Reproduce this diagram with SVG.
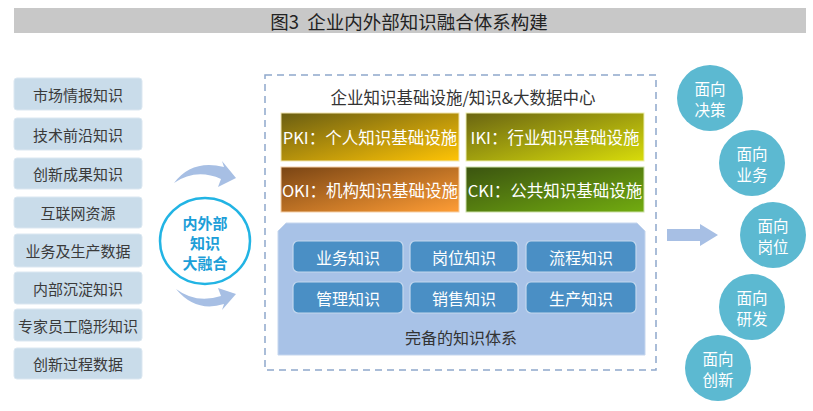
<svg xmlns="http://www.w3.org/2000/svg" width="813" height="411" viewBox="0 0 813 411">
<defs>
<style>
text{font-family:"Noto Sans CJK SC","Noto Sans",sans-serif;text-anchor:middle;dominant-baseline:central}
.src rect{fill:#c9dcea;stroke:#dbe7f1;stroke-width:1}
.src text{font-size:15px;fill:#3a3a3a}
.ki text{font-size:16.5px;fill:#ffffff}
.kb rect{fill:#4a8fc5;stroke:#c4d8ee;stroke-width:1.2}
.kb text{font-size:16px;fill:#ffffff}
.tgt circle{fill:#5cb9d1}
.tgt text{font-size:15.5px;fill:#ffffff}
.arr{fill:#a7bfe4}
</style>
<linearGradient id="gP" x1="0" y1="0" x2="1" y2="1"><stop offset="0" stop-color="#6a5e12"/><stop offset="1" stop-color="#ffc405"/></linearGradient>
<linearGradient id="gI" x1="0" y1="0" x2="1" y2="1"><stop offset="0" stop-color="#6a6512"/><stop offset="1" stop-color="#d8dc0a"/></linearGradient>
<linearGradient id="gO" x1="0" y1="0" x2="1" y2="1"><stop offset="0" stop-color="#7a4514"/><stop offset="1" stop-color="#ff9d35"/></linearGradient>
<linearGradient id="gC" x1="0" y1="0" x2="1" y2="1"><stop offset="0" stop-color="#3b5410"/><stop offset="1" stop-color="#72ac10"/></linearGradient>
</defs>
<rect width="813" height="411" fill="#ffffff"/>
<g id="title">
<rect x="14" y="8" width="792" height="25" fill="#c8c8c8"/>
<text x="409" y="21" style="font-size:18.5px;fill:#222">图3&#160;&#160;企业内外部知识融合体系构建</text>
</g>
<g id="sources" class="src">
<g id="s1"><rect x="14" y="78" width="128" height="32" rx="3"/><text x="78" y="94">市场情报知识</text></g>
<g id="s2"><rect x="14" y="118" width="128" height="32" rx="3"/><text x="78" y="134">技术前沿知识</text></g>
<g id="s3"><rect x="14" y="158" width="128" height="31" rx="3"/><text x="78" y="173.5">创新成果知识</text></g>
<g id="s4"><rect x="14" y="197" width="128" height="31" rx="3"/><text x="78" y="212.5">互联网资源</text></g>
<g id="s5"><rect x="14" y="234" width="128" height="33" rx="3"/><text x="78" y="250.5">业务及生产数据</text></g>
<g id="s6"><rect x="14" y="272" width="128" height="32" rx="3"/><text x="78" y="288">内部沉淀知识</text></g>
<g id="s7"><rect x="14" y="309" width="128" height="32" rx="3"/><text x="78" y="325">专家员工隐形知识</text></g>
<g id="s8"><rect x="14" y="348" width="128" height="31" rx="3"/><text x="78" y="363.5">创新过程数据</text></g>
</g>
<g id="fusion">
<ellipse cx="205" cy="241" rx="45" ry="43" fill="#ffffff" stroke="#22b4e4" stroke-width="2.5"/>
<text x="205" y="222" style="font-size:15px;font-weight:bold;fill:#1c9ed8">内外部</text>
<text x="205" y="242" style="font-size:15px;font-weight:bold;fill:#1c9ed8">知识</text>
<text x="205" y="262" style="font-size:15px;font-weight:bold;fill:#1c9ed8">大融合</text>
</g>
<g id="connectors">
<path class="arr" d="M174 183 Q192 159 224 167 L222 161 L236 178 L218 187 L221 179 Q196 168 174 183 Z"/>
<path class="arr" d="M176 289 Q196 313 224 304 L222 310 L236 294 L218 288 L221 296 Q196 304 176 289 Z"/>
<path class="arr" d="M667 229 L700 229 L700 224 L718 235 L700 246 L700 241 L667 241 Z"/>
</g>
<g id="center">
<rect x="265" y="75" width="391" height="295" fill="none" stroke="#8fa8cc" stroke-width="1.5" stroke-dasharray="7 5"/>
<text x="463" y="97" style="font-size:16.5px;fill:#333">企业知识基础设施/知识&amp;大数据中心</text>
</g>
<g id="infra" class="ki">
<g id="pki"><rect x="281" y="113" width="178" height="48" fill="url(#gP)" stroke="#f2e6b0" stroke-width="1"/><text x="370" y="137">PKI：个人知识基础设施</text></g>
<g id="iki"><rect x="466" y="113" width="178" height="48" fill="url(#gI)" stroke="#eef0b0" stroke-width="1"/><text x="555" y="137">IKI：行业知识基础设施</text></g>
<g id="oki"><rect x="281" y="167" width="178" height="45" fill="url(#gO)" stroke="#f5d0a8" stroke-width="1"/><text x="370" y="189.5">OKI：机构知识基础设施</text></g>
<g id="cki"><rect x="466" y="167" width="178" height="45" fill="url(#gC)" stroke="#cde0a8" stroke-width="1"/><text x="555" y="189.5">CKI：公共知识基础设施</text></g>
</g>
<g id="system">
<path d="M286 223 L637 223 L645 231 L645 355 L278 355 L278 231 Z" fill="#a8c2e7" stroke="#c5d6ee" stroke-width="1"/>
<text x="461" y="337" style="font-size:16px;fill:#333">完备的知识体系</text>
</g>
<g id="kb" class="kb">
<g id="k1"><rect x="293" y="241" width="110" height="31" rx="5"/><text x="348" y="256.5">业务知识</text></g>
<g id="k2"><rect x="410" y="241" width="108" height="31" rx="5"/><text x="464" y="256.5">岗位知识</text></g>
<g id="k3"><rect x="526" y="241" width="110" height="31" rx="5"/><text x="581" y="256.5">流程知识</text></g>
<g id="k4"><rect x="293" y="282" width="110" height="31" rx="5"/><text x="348" y="297.5">管理知识</text></g>
<g id="k5"><rect x="410" y="282" width="108" height="31" rx="5"/><text x="464" y="297.5">销售知识</text></g>
<g id="k6"><rect x="526" y="282" width="110" height="31" rx="5"/><text x="581" y="297.5">生产知识</text></g>
</g>
<g id="targets" class="tgt">
<g id="t1"><circle cx="710" cy="98" r="33"/><text x="710" y="88">面向</text><text x="710" y="109">决策</text></g>
<g id="t2"><circle cx="752" cy="163" r="33"/><text x="752" y="153">面向</text><text x="752" y="174">业务</text></g>
<g id="t3"><circle cx="773" cy="235" r="33"/><text x="773" y="225">面向</text><text x="773" y="246">岗位</text></g>
<g id="t4"><circle cx="752" cy="307" r="33"/><text x="752" y="297">面向</text><text x="752" y="318">研发</text></g>
<g id="t5"><circle cx="718" cy="368" r="33"/><text x="718" y="358">面向</text><text x="718" y="379">创新</text></g>
</g>
</svg>
